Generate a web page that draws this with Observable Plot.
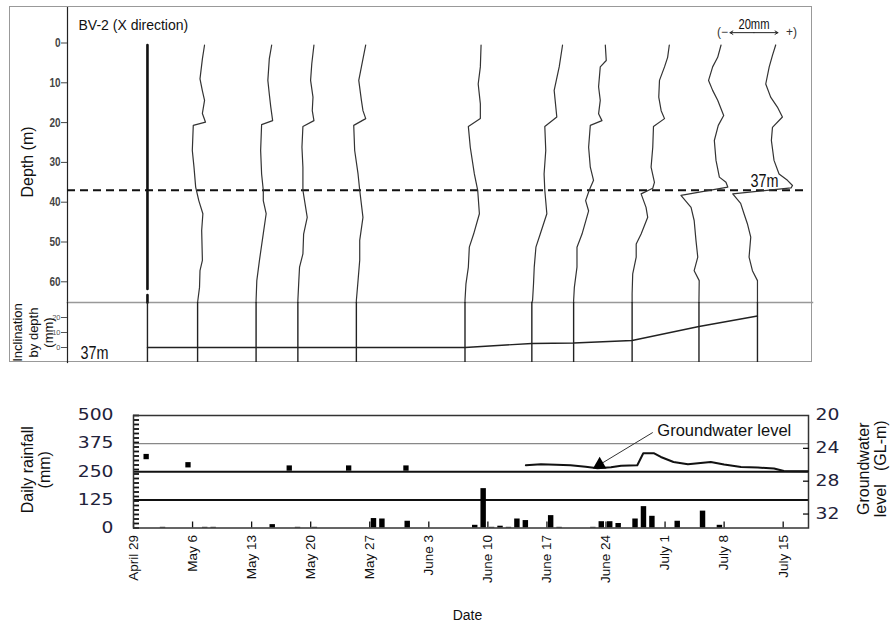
<!DOCTYPE html>
<html><head><meta charset="utf-8">
<script src="https://cdn.jsdelivr.net/npm/d3@7"></script>
<script src="https://cdn.jsdelivr.net/npm/@observablehq/plot@0.6"></script>
<style>
html,body{margin:0;padding:0;background:#fff;}
#root{position:relative;width:892px;height:622px;overflow:hidden;font-family:Arial,"Liberation Sans",sans-serif;}
#border{position:absolute;left:9px;top:6px;width:801px;height:354px;border:1.5px solid #999;}
.layer{position:absolute;left:0;}
</style></head><body><div id="root"><div id="border"></div></div>
<script>
// ---------------- DATA ----------------
// Borehole inclinometer BV-2, X direction: measurement dates (profile base positions)
const profileDates = ["2011-04-30","2011-05-06","2011-05-13","2011-05-18","2011-05-25","2011-06-07","2011-06-15","2011-06-20","2011-06-27","2011-07-05","2011-07-12"];
// Inclination by depth at 37 m (mm), one per profile
const inclinationMm = [0,0,0,0,0,0,2.7,3,4.7,14,21];
// Profiles: [depth (m), displacement (mm)]
const profile1 = [[0.5,0],[61.8,0],[NaN,0],[63.3,0],[65.2,0]];
const profile2 = [[0.5,2.9],[4,2.0],[9,1.0],[12,2.0],[14.4,2.9],[17.7,2.0],[19.9,3.3],[20.7,-1.8],[27,-2.2],[31.2,-1.5],[36.2,-0.8],[39.6,0.5],[42.9,2.2],[47.1,1.7],[54.6,2.0],[57.2,1.0],[61.4,0.8],[64.7,0.1],[65.2,0]];
const profile3 = [[0.5,6.5],[4,5.5],[9.4,4.9],[12.8,5.5],[16,6.1],[19.5,6.9],[20.5,2.3],[27,1.9],[32.9,2.3],[37,3.0],[39.6,3.0],[42.9,4.2],[47.9,3.0],[54.6,1.4],[59.7,0.3],[64.7,0],[65.2,0]];
const profile4 = [[0.5,6.7],[5.2,5.8],[9.4,5.3],[13.6,6.3],[17,6.0],[19.5,6.7],[21,2.1],[26.2,1.7],[31.2,2.1],[37,2.1],[43.8,3.9],[48,2.4],[53,2.1],[56.3,0.7],[59.7,0.4],[64.7,0],[65.2,0]];
const profile5 = [[0.5,3.9],[6,2.1],[9.4,1.0],[14.4,2.1],[17,2.75],[19,3.9],[20.7,-1.1],[27,-0.7],[32.9,0.7],[37,1.4],[43.8,2.75],[49.6,1.4],[54.6,1.4],[59.7,0.7],[64.7,0],[65.2,0]];
const profile6 = [[0.5,6.7],[6,6.4],[10.3,5.5],[15.3,6.4],[19,6.4],[21,1.4],[26.2,2.2],[32.9,3.9],[37,5.3],[42.9,6.0],[48,3.6],[51.3,1.8],[56.3,1.4],[60.5,0.4],[64.7,0],[65.2,0]];
const profile7 = [[0.5,12.8],[6,11.4],[11.9,9.3],[18.6,10.4],[21,5.4],[27,5.8],[32.9,5.1],[37,5.4],[42.9,6.25],[48,3.5],[51.3,1.7],[56.3,1.0],[60.5,0.7],[64.7,0.3],[65.2,0]];
const profile8 = [[0.5,13.2],[4.4,13.6],[6,11.1],[11,10.4],[14.4,11.1],[17.8,10.4],[19.5,11.8],[20.7,6.95],[26.2,6.25],[31.2,6.95],[34.5,8.3],[37,6.5],[39.6,5.0],[42.2,6.25],[48,3.5],[51.3,1.4],[56.3,1.4],[61.4,0.3],[64.7,0],[65.2,0]];
const profile9 = [[0.5,15.5],[3.6,14.8],[6,13.5],[9.4,11.4],[13.6,11.1],[17,12.1],[19,13.5],[21,8.9],[26.2,8.6],[31.2,7.9],[35,9.3],[36.5,8.6],[37.9,3.75],[41.3,5.8],[43.8,6.5],[48,3.75],[50.5,1.7],[53.8,1.7],[58,0.25],[63,0],[65.2,0]];
const profile10 = [[0.5,9.2],[3.6,7.8],[6,5.7],[9.4,4.0],[11.9,5.7],[14.4,7.8],[18.2,10.3],[20.7,8.05],[24.5,6.4],[29.5,7.1],[33.7,8.5],[35,11.25],[36.2,12.0],[38.3,-7.5],[41.3,-3.3],[44.6,-2.0],[49.6,-1.25],[53.8,-0.5],[57.2,-2.0],[59.7,0.1],[64.7,0],[65.2,0]];
const profile11 = [[0.5,7.6],[3.1,6.25],[6,4.9],[10.3,3.45],[13.6,5.5],[16.1,8.3],[18.6,10.4],[21.2,6.25],[24.5,5.8],[29.5,6.9],[32.9,9.0],[34.5,12.5],[35.8,14.6],[36.4,14.0],[37.9,-10.3],[40.3,-7.0],[42.9,-5.6],[45.4,-4.2],[48.8,-2.8],[53.8,-3.5],[57.2,-2.1],[59.7,0],[64.7,0],[65.2,0]];
const depthTicks = [0,10,20,30,40,50,60];
const inclTicks = [0,10,20];
const slipDepth = [37];

// Daily rainfall (mm)
const rainDates = ["2011-05-02","2011-05-07","2011-05-08","2011-05-15","2011-05-18","2011-05-20","2011-05-27","2011-05-28","2011-05-31","2011-06-08","2011-06-09","2011-06-10","2011-06-11","2011-06-12","2011-06-13","2011-06-14","2011-06-17","2011-06-18","2011-06-22","2011-06-23","2011-06-24","2011-06-25","2011-06-27","2011-06-28","2011-06-29","2011-07-02","2011-07-05","2011-07-07"];
const rainMm = [3,3,3,15,3,3,42,40,30,12,175,3,8,3,40,33,55,3,3,28,28,20,40,95,52,30,75,12];
// Groundwater level (GL-m): continuous record
const gwLineDates = ["2011-06-14T12","2011-06-16T07","2011-06-18T02","2011-06-19T19","2011-06-21T14","2011-06-23T00","2011-06-24T14","2011-06-25T19","2011-06-27T17","2011-06-28T10","2011-06-29T17","2011-06-30T12","2011-07-02T00","2011-07-03T17","2011-07-05T05","2011-07-06T10","2011-07-08T00","2011-07-10T00","2011-07-12T00","2011-07-13T22","2011-07-15T02","2011-07-17T22"];
const gwLineLevels = [26.06,25.94,26.0,26.06,26.24,26.42,26.3,26.12,26.06,24.6,24.6,25.05,25.66,25.94,25.78,25.66,25.98,26.27,26.34,26.46,26.75,26.79];
// Groundwater level: spot readings
const gwPointDates = ["2011-04-30T12","2011-05-05T11","2011-05-17T11","2011-05-24T12","2011-05-31T07"];
const gwPointLevels = [25.0,26.0,26.4,26.4,26.4];
// Axis ticks
const dateTicks = ["2011-04-29","2011-05-06","2011-05-13","2011-05-20","2011-05-27","2011-06-03","2011-06-10","2011-06-17","2011-06-24","2011-07-01","2011-07-08","2011-07-15"];
const dateTickLabels = ["April 29","May 6","May 13","May 20","May 27","June 3","June 10","June 17","June 24","July 1","July 8","July 15"];
const rainTicks = [0,125,250,375,500];
const gwTicks = [20,24,28,32];

// ---------------- HELPERS ----------------
const toDate = s => new Date(s.length === 10 ? s + "T00:00:00Z" : s + ":00:00Z");
const NARROW = '"Liberation Sans Narrow","Arial Narrow","Liberation Sans",Arial,sans-serif';
const WIDE = '"DejaVu Sans",Verdana,sans-serif';
const MS_PER_MM = 0.2872 * 864e5; // horizontal displacement exaggeration
const xDomain = [toDate("2011-04-29"), toDate("2011-07-18")];
const topRange = [138.6, 807.1];
const profiles = [profile1,profile2,profile3,profile4,profile5,profile6,profile7,profile8,profile9,profile10,profile11];
const profileRows = profiles.flatMap((pts, i) => pts.map(([depth, mm]) => ({i, depth, x: new Date(+toDate(profileDates[i]) + mm * MS_PER_MM)})));
const inclRows = profileDates.map((d, i) => ({date: toDate(d), mm: inclinationMm[i]}));
const rain = rainDates.map((d, i) => ({date: toDate(d), mm: rainMm[i]}));
const gwLine = gwLineDates.map((d, i) => ({date: toDate(d), gw: gwLineLevels[i]}));
const gwPoints = gwPointDates.map((d, i) => ({date: toDate(d), gw: gwPointLevels[i]}));
const tickLabel = new Map(dateTicks.map((d, i) => [+toDate(d), dateTickLabels[i]]));
const scaleBar = {at: toDate("2011-07-08T17"), depth: -2.6, mm: 20};
const sbStart = scaleBar.at, sbEnd = new Date(+scaleBar.at + scaleBar.mm * MS_PER_MM), sbMid = new Date((+sbStart + +sbEnd) / 2);
const gwNote = {x1: toDate("2011-06-29T13"), y1: 22.07, x2: toDate("2011-06-23T06"), y2: 25.98, tx: toDate("2011-06-30T02"), ty: 21.89, text: "Groundwater level"};

const root = document.getElementById("root");
function place(svg, top) { svg.classList.add("layer"); svg.style.top = top + "px"; root.appendChild(svg); }
function stretch(svg, key, factor) {
  svg.querySelectorAll(`[font-family*="${key}"] text, text[font-family*="${key}"]`).forEach(t => {
    const len = t.getComputedTextLength();
    if (len > 0) { t.setAttribute("textLength", (len * factor).toFixed(1)); t.setAttribute("lengthAdjust", "spacingAndGlyphs"); }
  });
}
const baseStyle = {background: "transparent", fontFamily: "Arial, 'Liberation Sans', sans-serif", color: "#111", overflow: "visible"};

// ---------------- PANEL A: depth profiles ----------------
const A = Plot.plot({
  width: 892, height: 303, marginLeft: 67, marginRight: 80, marginTop: 7, marginBottom: 1,
  style: baseStyle,
  x: {type: "utc", domain: xDomain, range: topRange, axis: null},
  y: {domain: [0, 65.2], range: [42.5, 302], axis: null},
  marks: [
    Plot.frame({anchor: "left", stroke: "#222", strokeWidth: 1.2}),
    Plot.frame({anchor: "bottom", stroke: "#999", strokeWidth: 1.5}),
    Plot.axisY({ticks: depthTicks, tickSize: 6, tickPadding: 1, fontSize: 12.5, fontFamily: NARROW, fontWeight: "bold", fill: "#444", stroke: "#444", label: null}),
    Plot.ruleY(slipDepth, {stroke: "#111", strokeWidth: 2, strokeDasharray: "8,5", insetRight: 5}),
    Plot.line(profileRows.filter(d => d.i > 0), {x: "x", y: "depth", z: "i", stroke: "#333", strokeWidth: 1.2}),
    Plot.line(profileRows.filter(d => d.i === 0), {x: "x", y: "depth", stroke: "#111", strokeWidth: 2.6}),
    Plot.text(["BV-2 (X direction)"], {frameAnchor: "top-left", dx: 11, dy: 13, textAnchor: "start", lineAnchor: "top", fontSize: 14}),
    Plot.text(["Depth (m)"], {frameAnchor: "left", dx: -40, dy: 7, rotate: -90, textAnchor: "middle", fontSize: 16}),
    Plot.text(slipDepth, {y: d => d, text: d => d + "m", frameAnchor: "right", dx: -34, dy: -3, textAnchor: "end", lineAnchor: "bottom", fontSize: 18, fontFamily: NARROW}),
    Plot.arrow([scaleBar], {x1: sbMid, y1: d => d.depth, x2: sbStart, y2: d => d.depth, headLength: 5, strokeWidth: 1, stroke: "#222"}),
    Plot.arrow([scaleBar], {x1: sbMid, y1: d => d.depth, x2: sbEnd, y2: d => d.depth, headLength: 5, strokeWidth: 1, stroke: "#222"}),
    Plot.text([scaleBar], {x: sbStart, y: d => d.depth, text: ["(−"], dx: -2, textAnchor: "end", fontSize: 12, fill: "#333"}),
    Plot.text([scaleBar], {x: sbEnd, y: d => d.depth, text: ["+)"], dx: 8, textAnchor: "start", fontSize: 12, fill: "#333"}),
    Plot.text([scaleBar], {x: sbMid, y: d => d.depth, text: d => d.mm + "mm", dy: -8, fontSize: 14, fontFamily: NARROW})
  ]
});
place(A, 0);
stretch(A, "Narrow", 0.8);

// ---------------- PANEL B: inclination at 37 m ----------------
const B = Plot.plot({
  width: 892, height: 68, marginLeft: 67, marginRight: 80, marginTop: 0, marginBottom: 8,
  style: baseStyle,
  x: {type: "utc", domain: xDomain, range: topRange, axis: null},
  y: {domain: [0, 20], range: [45, 15], axis: null},
  marks: [
    Plot.frame({anchor: "left", stroke: "#222", strokeWidth: 1.2}),
    Plot.axisY({ticks: inclTicks, tickSize: 6, tickPadding: 1, fontSize: 7.5, fill: "#555", stroke: "#555", label: null}),
    Plot.ruleX(profileDates.map(toDate), {stroke: "#222", strokeWidth: 1.4}),
    Plot.line(inclRows, {x: "date", y: "mm", stroke: "#222", strokeWidth: 1.4}),
    Plot.text(["Inclination\nby depth\n(mm)"], {frameAnchor: "left", dx: -35, rotate: -90, textAnchor: "middle", fontSize: 13, lineHeight: 1.22}),
    Plot.text(slipDepth, {text: d => d + "m", frameAnchor: "bottom-left", dx: 13, dy: -4, textAnchor: "start", lineAnchor: "bottom", fontSize: 18, fontFamily: NARROW})
  ]
});
place(B, 302);
stretch(B, "Narrow", 0.8);

// ---------------- PANEL C: rainfall ----------------
const common = {width: 892, height: 252, marginLeft: 133, marginRight: 84, marginTop: 45, marginBottom: 94.5};
const C = Plot.plot({
  ...common, style: baseStyle,
  x: {type: "utc", domain: xDomain, axis: null},
  y: {domain: [0, 500], axis: null},
  marks: [
    Plot.ruleY([375], {stroke: "#888", strokeWidth: 1.3}),
    Plot.ruleY([250, 125], {stroke: "#111", strokeWidth: 2}),
    Plot.rectY(rain, {x: "date", y: "mm", interval: "day", insetLeft: 1.5, insetRight: 1.5, fill: "#000"}),
    Plot.axisY({ticks: d3.range(0, 501, 20), tickSize: 6, dx: 6, tickFormat: () => "", strokeWidth: 1.8, label: null}),
    Plot.axisY({ticks: rainTicks, tickSize: 0, tickPadding: 20, fontSize: 15, fontFamily: WIDE, fill: "#22223a", label: null}),
    Plot.axisX({ticks: dateTicks.map(toDate), tickSize: 6, dy: -6, tickFormat: () => "", strokeWidth: 1.3, label: null}),
    Plot.axisX({ticks: dateTicks.map(toDate), tickSize: 0, tickPadding: 7, tickRotate: -90, tickFormat: d => tickLabel.get(+d), fontSize: 13.5, fill: "#111", label: null}),
    Plot.frame({stroke: "#333", strokeWidth: 1.5}),
    Plot.text(["Daily rainfall\n(mm)"], {frameAnchor: "left", dx: -97, dy: -2, rotate: -90, textAnchor: "middle", fontSize: 16, lineHeight: 1.05}),
    Plot.text(["Date"], {frameAnchor: "bottom", dx: -3.5, dy: 92, lineAnchor: "bottom", fontSize: 14})
  ]
});
place(C, 370);
stretch(C, "DejaVu", 1.25);

// ---------------- PANEL D: groundwater overlay ----------------
const D = Plot.plot({
  ...common, style: baseStyle,
  x: {type: "utc", domain: xDomain, axis: null},
  y: {domain: [20, 33.7], reverse: true, axis: null},
  marks: [
    Plot.line(gwLine, {x: "date", y: "gw", stroke: "#111", strokeWidth: 2}),
    Plot.dot(gwPoints, {x: "date", y: "gw", symbol: "square", r: 3, fill: "#000"}),
    Plot.link([gwNote], {x1: "x1", y1: "y1", x2: "x2", y2: "y2", stroke: "#333", strokeWidth: 1}),
    Plot.dot([gwNote], {x: "x2", y: "y2", symbol: "triangle", r: 5, fill: "#000"}),
    Plot.text([gwNote], {x: "tx", y: "ty", text: "text", textAnchor: "start", fontSize: 16.5}),
    Plot.axisY({anchor: "right", ticks: [24, 28, 32], tickSize: 6, dx: -6, tickFormat: () => "", strokeWidth: 1.3, label: null}),
    Plot.axisY({anchor: "right", ticks: gwTicks, tickSize: 0, tickPadding: 7, fontSize: 15, fontFamily: WIDE, fill: "#22223a", label: null}),
    Plot.text(["Groundwater\nlevel   (GL-m)"], {frameAnchor: "right", dx: 64, dy: -3, rotate: -90, textAnchor: "middle", fontSize: 16, lineHeight: 1.05})
  ]
});
place(D, 370);
stretch(D, "DejaVu", 1.25);
</script></body></html>
